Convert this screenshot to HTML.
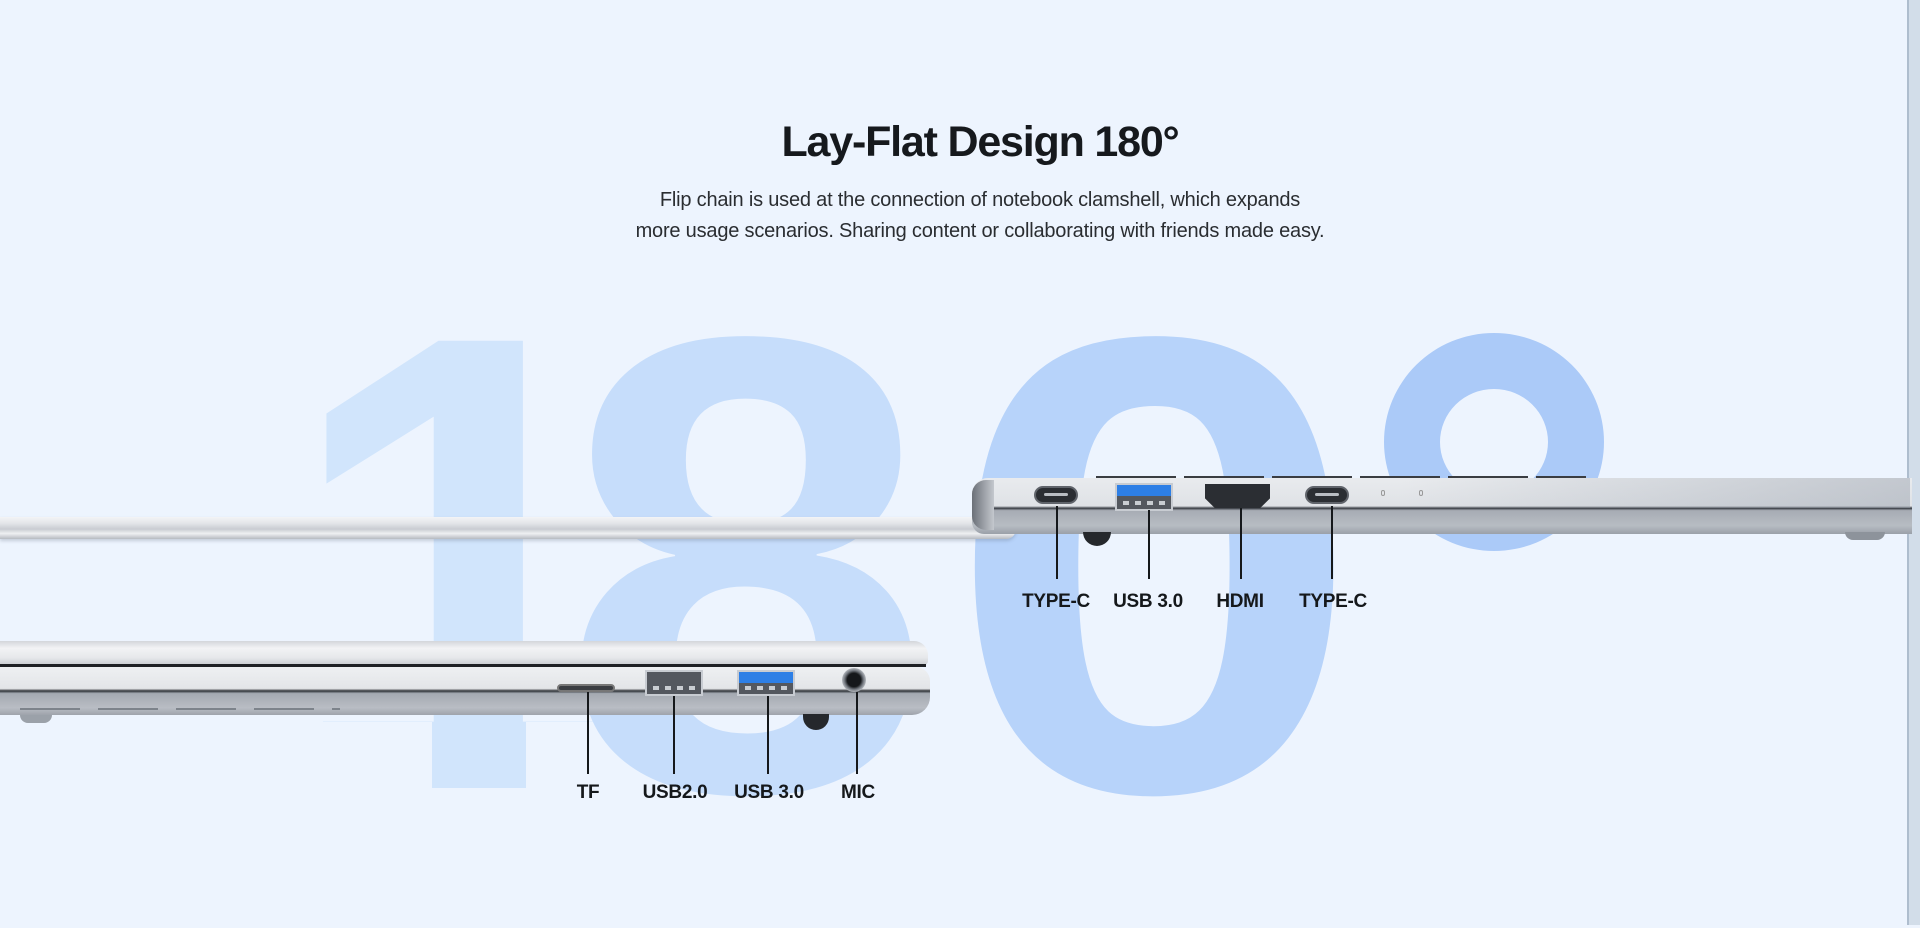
<!DOCTYPE html>
<html><head><meta charset="utf-8"><style>
*{margin:0;padding:0;box-sizing:border-box}
body{width:1920px;height:925px;overflow:hidden;background:#edf4fe;position:relative;font-family:"Liberation Sans",sans-serif}
.a{position:absolute}
.dg{position:absolute;font-weight:bold;font-size:650px;line-height:1;letter-spacing:-10px}
h1{position:absolute;left:0;width:1960px;top:118px;text-align:center;font-size:43px;font-weight:bold;color:#16191d;letter-spacing:-1.2px}
.sub{position:absolute;left:0;width:1960px;top:185px;text-align:center;font-size:20px;line-height:31px;color:#2a2d31;letter-spacing:-0.2px}
.ln{position:absolute;width:2px;background:#15181b}
.lb{position:absolute;font-weight:bold;font-size:19px;color:#15181b;transform:translateX(-50%);white-space:nowrap;letter-spacing:-0.3px}
.tc{position:absolute;width:44px;height:18px;border-radius:9px;background:#2b2e33;border:2px solid #60646b}
.tc::after{content:"";position:absolute;left:8px;right:8px;top:5px;height:3px;background:#b9bdc3;border-radius:2px}
.usb{position:absolute;width:56px;height:24px;background:#54585f;border:2px solid #c8ccd2}
.usb.b::before{content:"";position:absolute;left:0;right:0;top:0;height:11px;background:#2d7fe6}
.usb::after{content:"";position:absolute;left:6px;right:6px;bottom:4px;height:4px;background:repeating-linear-gradient(90deg,#c9cdd2 0 6px,transparent 6px 12px)}
</style></head><body>
<div class="dg" style="left:282px;top:238px;color:#d1e5fc;clip-path:polygon(0 0,100% 0,100% 484px,244px 484px,244px 100%,150px 100%,150px 484px,0 484px)">1</div>
<div class="dg" style="left:560px;top:240px;color:#c6ddfb;transform:scaleX(1.03);transform-origin:left">8</div>
<div class="dg" style="left:945px;top:240px;color:#b7d3fa;transform:scaleX(1.16);transform-origin:left">0</div>
<div class="a" style="left:1384px;top:333px;width:220px;height:218px;border-radius:50%;border:56px solid #abcaf8"></div>

<h1>Lay-Flat Design 180°</h1>
<div class="sub">Flip chain is used at the connection of notebook clamshell, which expands<br>more usage scenarios. Sharing content or collaborating with friends made easy.</div>

<div class="a" style="left:1907px;top:0;width:13px;height:925px;background:#d2dde9;border-left:2px solid #aebdce"></div>

<div class="a" style="left:0;top:517px;width:1016px;height:22px;background:linear-gradient(#f3f4f6 0,#e2e4e8 30%,#c9ccd2 55%,#eef0f2 75%,#b6bac1 100%);border-radius:0 10px 10px 0;box-shadow:0 2px 3px rgba(80,90,110,.25)"></div>
<div class="a" style="left:1096px;top:476px;width:490px;height:4px;background:repeating-linear-gradient(90deg,#3a3d42 0 80px,transparent 80px 88px)"></div>
<div class="a" style="left:972px;top:478px;width:940px;height:56px;background:linear-gradient(#e9ebee 0,#dfe2e6 50%,#3a3e45 54%,#a7acb4 58%,#b7bcc3 85%,#9aa0a8 100%);border-radius:16px 0 0 12px"></div>
<div class="a" style="left:1400px;top:478px;width:510px;height:30px;background:linear-gradient(90deg,rgba(255,255,255,0),rgba(150,158,170,.45))"></div>
<div class="a" style="left:972px;top:480px;width:22px;height:50px;background:linear-gradient(90deg,#6b7078,#c4c8ce);border-radius:14px 0 0 14px"></div>
<div class="a" style="left:1083px;top:532px;width:28px;height:14px;border-radius:0 0 14px 14px;background:#25282c"></div>
<div class="a" style="left:1845px;top:532px;width:40px;height:8px;border-radius:0 0 20px 20px;background:#8d939b"></div>
<div class="tc" style="left:1034px;top:486px"></div>
<div class="usb b" style="left:1115px;top:483px;width:58px;height:28px"></div>
<div class="a" style="left:1205px;top:484px;width:65px;height:24px;background:#2b2e33;clip-path:polygon(0 0,100% 0,100% 60%,85% 100%,15% 100%,0 60%)"></div>
<div class="tc" style="left:1305px;top:486px"></div>
<div class="a" style="left:1381px;top:490px;width:4px;height:6px;border:1px solid #999;border-radius:2px"></div>
<div class="a" style="left:1419px;top:490px;width:4px;height:6px;border:1px solid #999;border-radius:2px"></div>
<div class="ln" style="left:1056px;top:506px;height:73px"></div>
<div class="ln" style="left:1148px;top:510px;height:69px"></div>
<div class="ln" style="left:1240px;top:508px;height:71px"></div>
<div class="ln" style="left:1331px;top:506px;height:73px"></div>
<div class="lb" style="left:1056px;top:591px">TYPE-C</div>
<div class="lb" style="left:1148px;top:591px">USB 3.0</div>
<div class="lb" style="left:1240px;top:591px">HDMI</div>
<div class="lb" style="left:1333px;top:591px">TYPE-C</div>

<div class="a" style="left:0;top:641px;width:928px;height:24px;background:linear-gradient(#d3d6db 0,#f2f3f5 30%,#e6e8eb 70%,#c9ccd1 100%);border-radius:0 14px 4px 0"></div>
<div class="a" style="left:0;top:664px;width:926px;height:3px;background:#1e2125"></div>
<div class="a" style="left:0;top:667px;width:930px;height:48px;background:linear-gradient(#eef0f2 0,#e3e5e8 45%,#2f3338 50%,#a4a9b1 55%,#b9bdc4 85%,#9ea3ab 100%);border-radius:0 14px 18px 0"></div>
<div class="a" style="left:20px;top:708px;width:320px;height:2px;background:repeating-linear-gradient(90deg,#7d838b 0 60px,transparent 60px 78px)"></div>
<div class="a" style="left:803px;top:714px;width:26px;height:16px;border-radius:0 0 13px 13px;background:#25282c"></div>
<div class="a" style="left:20px;top:715px;width:32px;height:8px;border-radius:0 0 16px 16px;background:#9ba1a9"></div>
<div class="a" style="left:557px;top:684px;width:58px;height:8px;border-radius:4px;background:#3a3d42;border:2px solid #777"></div>
<div class="usb" style="left:645px;top:670px;width:58px;height:26px"></div>
<div class="usb b" style="left:737px;top:670px;width:58px;height:26px"></div>
<div class="a" style="left:842px;top:668px;width:24px;height:24px;border-radius:50%;background:radial-gradient(#15171a 40%,#6f747b 55%,#c7cbd0 75%)"></div>
<div class="ln" style="left:587px;top:692px;height:82px"></div>
<div class="ln" style="left:673px;top:696px;height:78px"></div>
<div class="ln" style="left:767px;top:696px;height:78px"></div>
<div class="ln" style="left:856px;top:692px;height:82px"></div>
<div class="lb" style="left:588px;top:782px">TF</div>
<div class="lb" style="left:675px;top:782px">USB2.0</div>
<div class="lb" style="left:769px;top:782px">USB 3.0</div>
<div class="lb" style="left:858px;top:782px">MIC</div>
</body></html>
